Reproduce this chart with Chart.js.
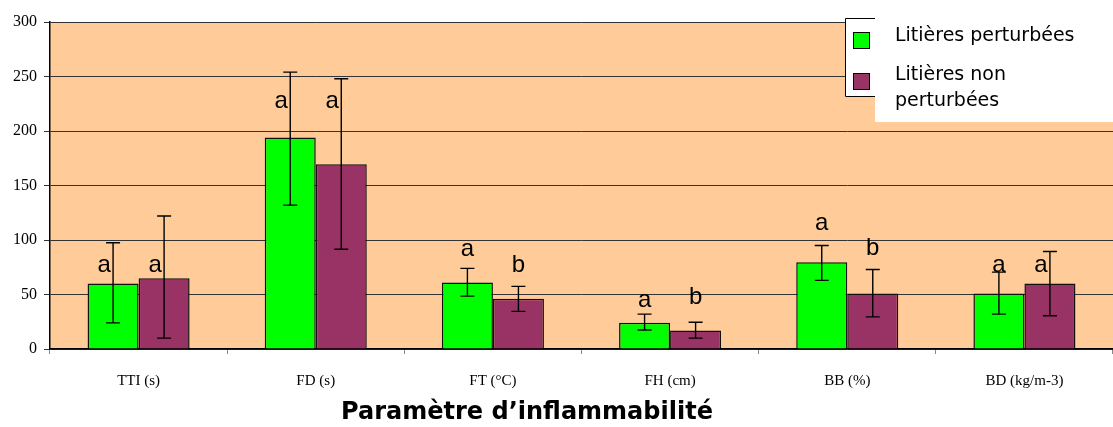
<!DOCTYPE html>
<html>
<head>
<meta charset="utf-8">
<script src="https://cdn.jsdelivr.net/npm/chart.js@4/dist/chart.umd.min.js"></script>
<style>
  body { margin: 0; background: #fff; }
  #wrap { width: 1113px; height: 427px; position: relative; }
</style>
</head>
<body>
<div id="wrap"><canvas id="inflamChart"></canvas></div>
<script>
// categories and series
const categories = ['TTI (s)', 'FD (s)', 'FT (°C)', 'FH (cm)', 'BB (%)', 'BD (kg/m-3)'];
const yTicks = [0, 50, 100, 150, 200, 250, 300];

const perturbees = [60, 194, 61, 24, 79.5, 51];
const perturbeesLow = [24, 132, 48.5, 17.5, 63, 32];
const perturbeesHigh = [97.5, 254, 74, 32, 95, 70.5];

const nonPerturbees = [65, 169.5, 46, 17, 51, 60];
const nonPerturbeesLow = [10, 91.5, 34.5, 10, 29.5, 30.5];
const nonPerturbeesHigh = [122, 248, 57.5, 24.5, 73, 89.5];

// significance letters and the level they sit at
const lettersPert = ['a', 'a', 'a', 'a', 'a', 'a'];
const lettersNon = ['a', 'a', 'b', 'b', 'b', 'a'];
const letterLevelPert = [77, 227, 91, 45, 115, 77];
const letterLevelNon = [77, 227, 77, 47, 92, 77];

const errLows = [perturbeesLow, nonPerturbeesLow];
const errHighs = [perturbeesHigh, nonPerturbeesHigh];
const letters = [lettersPert, lettersNon];
const letterLevels = [letterLevelPert, letterLevelNon];

// orange plot background
const plotBg = {
    id: 'plotBg',
    beforeDraw(chart) {
        const { ctx, chartArea: a } = chart;
        ctx.save();
        ctx.fillStyle = '#FFCC99';
        ctx.fillRect(a.left, a.top, a.right - a.left, a.bottom - a.top);
        ctx.restore();
    }
};

// error bars + letters
const errorBars = {
    id: 'errorBars',
    afterDatasetsDraw(chart) {
        const ctx = chart.ctx;
        const y = chart.scales.y;
        ctx.save();
        chart.data.datasets.forEach((ds, di) => {
            const meta = chart.getDatasetMeta(di);
            meta.data.forEach((bar, i) => {
                const yLo = y.getPixelForValue(errLows[di][i]);
                const yHi = y.getPixelForValue(errHighs[di][i]);
                ctx.strokeStyle = '#000';
                ctx.lineWidth = 1.4;
                ctx.beginPath();
                ctx.moveTo(bar.x, yLo);
                ctx.lineTo(bar.x, yHi);
                ctx.moveTo(bar.x - 7, yLo);
                ctx.lineTo(bar.x + 7, yLo);
                ctx.moveTo(bar.x - 7, yHi);
                ctx.lineTo(bar.x + 7, yHi);
                ctx.stroke();

                // letter: nudge left when the error line runs through it
                const lvl = letterLevels[di][i];
                let lx = bar.x;
                if (lvl > errLows[di][i] && lvl < errHighs[di][i]) lx -= 9;
                ctx.fillStyle = '#000';
                ctx.font = '24px "Liberation Sans", Arial, sans-serif';
                ctx.textAlign = 'center';
                ctx.textBaseline = 'middle';
                ctx.fillText(letters[di][i], lx, y.getPixelForValue(lvl));
            });
        });
        ctx.restore();
    }
};

// legend box and axis title
const extras = {
    id: 'extras',
    afterDraw(chart) {
        const ctx = chart.ctx;
        ctx.save();
        // legend frame (right part hidden under the white text box)
        ctx.fillStyle = '#fff';
        ctx.fillRect(845, 18, 268, 79);
        ctx.strokeStyle = '#000';
        ctx.lineWidth = 1;
        ctx.beginPath();
        ctx.moveTo(880, 18.5); ctx.lineTo(845.5, 18.5); ctx.lineTo(845.5, 96.5); ctx.lineTo(880, 96.5);
        ctx.stroke();
        ctx.fillRect(875, 0, 238, 122);

        const ds = chart.data.datasets;
        const boxes = [32, 73];
        ds.forEach((d, i) => {
            ctx.fillStyle = d.backgroundColor;
            ctx.fillRect(853.5, boxes[i] + 0.5, 16, 16);
            ctx.strokeStyle = '#000';
            ctx.strokeRect(853.5, boxes[i] + 0.5, 16, 16);
        });
        ctx.fillStyle = '#000';
        ctx.font = '19px "Comic Sans MS", "DejaVu Sans", sans-serif';
        ctx.textAlign = 'left';
        ctx.textBaseline = 'middle';
        ctx.fillText(ds[0].label, 895, 36);
        ctx.fillText('Litières non', 895, 75);
        ctx.fillText('perturbées', 895, 101);

        ctx.font = 'bold 24px "Comic Sans MS", "DejaVu Sans", sans-serif';
        ctx.textAlign = 'center';
        ctx.fillText('Paramètre d\u2019inflammabilité', 527, 413);
        ctx.restore();
    }
};

const chart = new Chart(document.getElementById('inflamChart').getContext('2d'), {
    type: 'bar',
    data: {
        labels: categories,
        datasets: [{
            label: 'Litières perturbées',
            data: perturbees,
            backgroundColor: '#00FF00',
            borderColor: '#111',
            borderWidth: 1.5,
            categoryPercentage: 0.576,
            barPercentage: 1.0
        }, {
            label: 'Litières non perturbées',
            data: nonPerturbees,
            backgroundColor: '#993366',
            borderColor: '#111',
            borderWidth: 1.5,
            categoryPercentage: 0.576,
            barPercentage: 1.0
        }]
    },
    options: {
        responsive: true,
        maintainAspectRatio: false,
        animation: false,
        layout: { padding: { top: 22, right: 0, left: 0, bottom: 0 } },
        plugins: {
            legend: { display: false },
            tooltip: { enabled: false }
        },
        scales: {
            x: {
                afterFit(scale) { scale.height = 78; },
                grid: {
                    drawOnChartArea: false,
                    drawTicks: true,
                    tickLength: 5,
                    color: '#888',
                    offset: true
                },
                border: { display: true, color: '#000', width: 1.5 },
                ticks: {
                    color: '#000',
                    padding: 18,
                    font: { family: '"Liberation Serif", "Times New Roman", serif', size: 15 }
                }
            },
            y: {
                min: 0,
                max: 300,
                afterFit(scale) { scale.width = 50; },
                afterBuildTicks(scale) { scale.ticks = yTicks.map(v => ({ value: v })); },
                grid: {
                    color: '#333',
                    lineWidth: 1,
                    tickLength: 6
                },
                border: { display: true, color: '#000', width: 1.5 },
                ticks: {
                    color: '#000',
                    padding: 7,
                    font: { family: '"Liberation Serif", "Times New Roman", serif', size: 16 }
                }
            }
        }
    },
    plugins: [plotBg, errorBars, extras]
});
</script>
</body>
</html>
